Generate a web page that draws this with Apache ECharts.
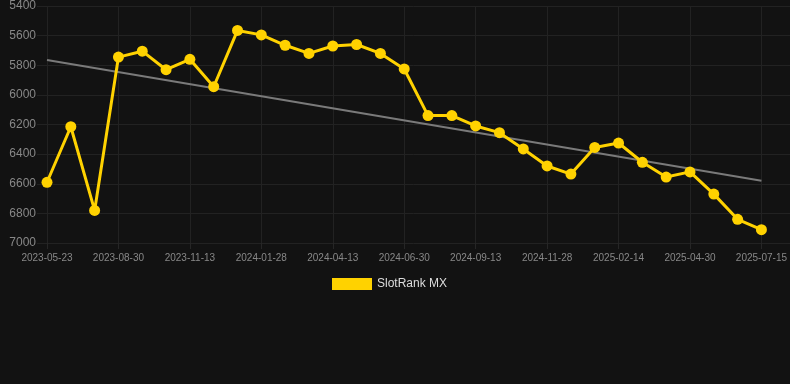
<!DOCTYPE html>
<html>
<head>
<meta charset="utf-8">
<script src="https://cdn.jsdelivr.net/npm/echarts@6/dist/echarts.min.js"></script>
<style>
html,body{margin:0;padding:0;background:#121212;}
#c{width:790px;height:384px;}
</style>
</head>
<body>
<div id="c"></div>
<script>
var categories = [
  '2023-05-23','2023-06-25','2023-07-28','2023-08-30','2023-09-24','2023-10-19',
  '2023-11-13','2023-12-08','2024-01-03','2024-01-28','2024-02-22','2024-03-18',
  '2024-04-13','2024-05-09','2024-06-04','2024-06-30','2024-07-25','2024-08-19',
  '2024-09-13','2024-10-08','2024-11-03','2024-11-28','2024-12-24','2025-01-19',
  '2025-02-14','2025-03-11','2025-04-05','2025-04-30','2025-05-25','2025-06-20',
  '2025-07-15'
];
var rankValues = [
  6590, 6215, 6780, 5745, 5705, 5830, 5760, 5945, 5565, 5595, 5665,
  5720, 5670, 5660, 5720, 5825, 6140, 6140, 6210, 6255, 6365, 6480,
  6535, 6355, 6325, 6455, 6555, 6520, 6670, 6840, 6910
];
var trendEnds = [5765, 6580];
var yTicks = { min: 5400, max: 7000, interval: 200 };
var seriesName = 'SlotRank MX';

var trendData = categories.map(function (c, i) {
  if (i === 0) return trendEnds[0];
  if (i === categories.length - 1) return trendEnds[1];
  return null;
});

var chart = echarts.init(document.getElementById('c'), null, { renderer: 'canvas' });
chart.setOption({
  backgroundColor: '#121212',
  animation: false,
  legend: {
    data: [{ name: seriesName, icon: 'rect' }],
    left: 327,
    top: 273,
    itemWidth: 40,
    itemHeight: 12,
    itemGap: 10,
    textStyle: { color: '#dddddd', fontSize: 12, fontFamily: 'Liberation Sans, Arial, sans-serif' }
  },
  grid: [
    { left: 37, right: 0, top: 6, bottom: 141 },
    { left: 47, right: 28, top: 6, bottom: 141 }
  ],
  xAxis: [
    { type: 'value', gridIndex: 0, show: false, min: 0, max: 1 },
    {
      type: 'category', gridIndex: 1, data: categories, boundaryGap: false,
      axisLine: { show: false },
      axisTick: { show: true, interval: 2, length: 6, lineStyle: { color: '#262626' } },
      axisLabel: { interval: 2, color: '#888888', fontSize: 10, margin: 10,
        fontFamily: 'Liberation Sans, Arial, sans-serif' },
      splitLine: { show: true, interval: 2, lineStyle: { color: '#222222', width: 1 } }
    }
  ],
  yAxis: [
    {
      type: 'value', gridIndex: 0, inverse: true,
      min: yTicks.min, max: yTicks.max, interval: yTicks.interval,
      axisLine: { show: false }, axisTick: { show: false },
      axisLabel: { color: '#888888', fontSize: 12, margin: 1,
        formatter: function (v) { return String(v); },
        fontFamily: 'Liberation Sans, Arial, sans-serif' },
      splitLine: { show: true, lineStyle: { color: '#222222', width: 1 } }
    },
    {
      type: 'value', gridIndex: 1, inverse: true,
      min: yTicks.min, max: yTicks.max, interval: yTicks.interval,
      axisLine: { show: false }, axisTick: { show: false },
      axisLabel: { show: false }, splitLine: { show: false }
    }
  ],
  series: [
    {
      name: 'trend', type: 'line', xAxisIndex: 1, yAxisIndex: 1,
      data: trendData, connectNulls: true, showSymbol: false, symbol: 'none',
      lineStyle: { color: '#7a7a7a', width: 2 }, silent: true, z: 1
    },
    {
      name: seriesName, type: 'line', xAxisIndex: 1, yAxisIndex: 1,
      data: rankValues, symbol: 'circle', symbolSize: 11, showSymbol: true,
      itemStyle: { color: '#FFD200' },
      lineStyle: { color: '#FFD200', width: 3 }, z: 2
    }
  ]
});
</script>
</body>
</html>
